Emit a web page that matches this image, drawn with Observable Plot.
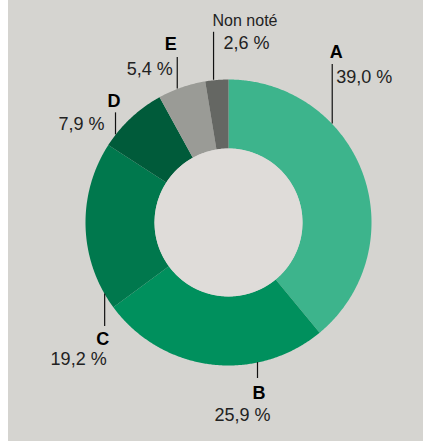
<!DOCTYPE html>
<html>
<head>
<meta charset="utf-8">
<script src="https://cdn.jsdelivr.net/npm/d3@7"></script>
<script src="https://cdn.jsdelivr.net/npm/@observablehq/plot@0.6"></script>
<style>
  html, body { margin: 0; padding: 0; background: #ffffff; }
  #chart { margin-left: 8px; width: 415px; height: 441px; }
  #chart svg { display: block; background: #d5d4d0; }
</style>
</head>
<body>
<div id="chart"></div>
<script>
// ---- data ----
const categories = ["A", "B", "C", "D", "E", "Non noté"];
const shares = [39.0, 25.9, 19.2, 7.9, 5.4, 2.6];
const valueLabels = ["39,0 %", "25,9 %", "19,2 %", "7,9 %", "5,4 %", "2,6 %"];
const colors = ["#3db48c", "#00905d", "#00784d", "#005b3a", "#9a9b96", "#656763"];

// ---- layout ----
const W = 415, H = 441;
const cx = 220, cy = 222, R = 143, R0 = 74;
const leaderAngle = [46.5, 168.3, -120, -52.2, -21, -6];   // where the leader meets the ring (deg, clockwise from top)
const leaderLen   = [59.5, 16, 32.5, 22, 31.5, 48];
const leaderDir   = [-1, 1, 1, -1, -1, -1];                  // -1 up, 1 down
const letterDx    = [4, 1.5, -2, -1.5, -6.5, -1];
const letterDy    = [-7, 20, 18, -6, -7, -6];
const letterAnchor = ["start", "middle", "middle", "middle", "end", "start"];
const valueDx     = [4, 13, 2, -11, -4.5, 10];
const valueDy     = [18, 42, 38, 17, 18, 17];
const valueAnchor = ["start", "end", "end", "end", "end", "start"];

const rad = d => d * Math.PI / 180;
const total = d3.sum(shares);
const cum = d3.cumsum(shares);

// ring polygons
const ring = [];
categories.forEach((cat, i) => {
  const a0 = (cum[i] - shares[i]) / total * 360;
  const a1 = cum[i] / total * 360;
  const n = Math.max(2, Math.ceil((a1 - a0) / 0.5));
  const angles = d3.range(n + 1).map(k => a0 + (a1 - a0) * k / n);
  angles.forEach(a => ring.push({cat, x: cx + R * Math.sin(rad(a)), y: cy - R * Math.cos(rad(a))}));
  angles.slice().reverse().forEach(a => ring.push({cat, x: cx + R0 * Math.sin(rad(a)), y: cy - R0 * Math.cos(rad(a))}));
});

// leaders
const leaders = categories.map((cat, i) => {
  const a = rad(leaderAngle[i]);
  const x = cx + R * Math.sin(a);
  const y = cy - R * Math.cos(a);
  const yEnd = y + leaderDir[i] * leaderLen[i];
  return {
    cat, x, y1: y, y2: yEnd,
    lx: x + letterDx[i], ly: yEnd + letterDy[i], la: letterAnchor[i],
    vx: x + valueDx[i], vy: yEnd + valueDy[i], va: valueAnchor[i],
    label: cat, value: valueLabels[i],
    bold: cat !== "Non noté"
  };
});

const plot = Plot.plot({
  width: W, height: H,
  margin: 0,
  x: {domain: [0, W], range: [0, W], axis: null},
  y: {domain: [0, H], range: [0, H], axis: null},
  color: {domain: categories, range: colors},
  style: {fontFamily: "'Liberation Sans', Arial, sans-serif", background: "#d5d4d0"},
  marks: [
    Plot.line(ring, {x: "x", y: "y", z: "cat", fill: "cat", stroke: "none"}),
    Plot.dot([{x: cx, y: cy}], {x: "x", y: "y", r: R0, fill: "#dfdcd9", stroke: "none"}),
    Plot.ruleX(leaders, {x: "x", y1: "y1", y2: "y2", stroke: "#111", strokeWidth: 1.2}),
    Plot.text(leaders.filter(d => d.bold), {x: "lx", y: "ly", text: "label", textAnchor: d => d.la, lineAnchor: "bottom", fontSize: 18, fontWeight: "bold", fill: "#000"}),
    Plot.text(leaders.filter(d => !d.bold), {x: "lx", y: "ly", text: "label", textAnchor: "start", lineAnchor: "bottom", fontSize: 16, fill: "#222"}),
    Plot.text(leaders.filter(d => d.va === "start"), {x: "vx", y: "vy", text: "value", textAnchor: "start", lineAnchor: "bottom", fontSize: 18, fill: "#222"}),
    Plot.text(leaders.filter(d => d.va === "end"), {x: "vx", y: "vy", text: "value", textAnchor: "end", lineAnchor: "bottom", fontSize: 18, fill: "#222"})
  ]
});
document.getElementById("chart").appendChild(plot);
</script>
</body>
</html>
